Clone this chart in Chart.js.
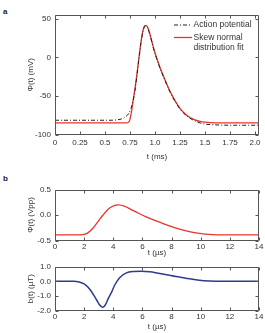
<!DOCTYPE html>
<html>
<head>
<meta charset="utf-8">
<script src="https://cdn.jsdelivr.net/npm/chart.js@4.4.1/dist/chart.umd.min.js"></script>
<style>
  html, body { margin: 0; padding: 0; background: #fff; }
  #wrap { position: relative; width: 265px; height: 333px; overflow: hidden; }
  #wrap canvas { position: absolute; left: 0; }
  .panel { position: absolute; font: bold 8px 'Liberation Sans', Arial, sans-serif; color: #222; }
</style>
</head>
<body>
<div id="wrap">
  <div class="panel" style="left:3px; top:7px;">a</div>
  <div class="panel" style="left:3px; top:174px;">b</div>
  <canvas id="chartA" width="265" height="165" style="top:0px;"></canvas>
  <canvas id="chartB1" width="265" height="88" style="top:170px;"></canvas>
  <canvas id="chartB2" width="265" height="75" style="top:258px;"></canvas>
</div>
<script>
// panel a: action potential (ms, mV)
const apTime = [0, 0.55, 0.62, 0.66, 0.69, 0.72, 0.74, 0.76, 0.78, 0.8, 0.82, 0.84, 0.86, 0.88, 0.9, 0.91, 0.93, 0.95, 0.98, 1.0, 1.05, 1.1, 1.15, 1.2, 1.25, 1.3, 1.35, 1.4, 1.45, 1.5, 1.6, 1.8, 2.05];
const apValue = [-81.5, -81.5, -81, -80, -78.5, -75.5, -72, -66, -57, -43, -23, -1, 19, 34, 41, 41, 37, 29, 14, 5, -14, -30, -45, -57, -67, -74, -79, -82.5, -85, -86.5, -87.5, -88, -88];

// panel a: skew normal fit
const fitTime = [0, 0.6, 0.72, 0.74, 0.75, 0.76, 0.77, 0.78, 0.8, 0.82, 0.84, 0.86, 0.88, 0.9, 0.91, 0.93, 0.95, 0.98, 1.0, 1.05, 1.1, 1.15, 1.2, 1.25, 1.3, 1.35, 1.4, 1.45, 1.5, 1.6, 2.05];
const fitValue = [-85, -85, -85, -83.5, -80, -74, -66, -57, -40, -21, 0, 20, 35, 41, 41.5, 38, 30, 15, 6, -13, -29, -44, -56, -66, -73, -78, -81, -83, -84, -84.8, -85];

// panel b top: phi(t) in Vpp over microseconds
const phiTime = [0, 1.5, 1.9, 2.2, 2.6, 3.0, 3.3, 3.77, 4.1, 4.35, 4.8, 5.3, 5.8, 6.3, 6.8, 7.3, 7.8, 8.3, 8.8, 9.3, 9.8, 10.3, 10.8, 11.5, 14];
const phiValue = [-0.39, -0.39, -0.385, -0.36, -0.26, -0.11, 0.0, 0.14, 0.19, 0.2, 0.17, 0.095, 0.025, -0.04, -0.1, -0.155, -0.21, -0.255, -0.295, -0.33, -0.357, -0.375, -0.385, -0.39, -0.39];

// panel b bottom: b(t) in microtesla
const bTime = [0, 1.3, 1.6, 2.0, 2.4, 2.86, 3.05, 3.25, 3.45, 3.65, 3.9, 4.1, 4.45, 4.9, 5.4, 5.94, 6.5, 7.0, 7.65, 8.3, 9.13, 9.9, 10.6, 11.5, 14];
const bValue = [0, 0, -0.02, -0.18, -0.56, -1.28, -1.6, -1.77, -1.62, -1.19, -0.7, -0.25, 0.27, 0.58, 0.68, 0.7, 0.66, 0.58, 0.46, 0.33, 0.19, 0.07, 0.02, 0, 0];

const msTicks = [0, 0.25, 0.5, 0.75, 1.0, 1.25, 1.5, 1.75, 2.0];
const msTickLabels = ['0', '0.25', '0.5', '0.75', '1.0', '1.25', '1.5', '1.75', '2.0'];
const mvTicks = [-100, -50, 0, 50];
const usTicks = [0, 2, 4, 6, 8, 10, 12, 14];
const vppTicks = [-0.5, 0.0, 0.5];
const utTicks = [-2.0, -1.0, 0.0, 1.0];

const legendLabels = [['Action potential'], ['Skew normal', 'distribution fit']];

const textColor = '#333';
const axisColor = '#555';
const fitRed = '#e8352b';
const fieldBlue = '#2d3c8e';
const fontFamily = "'Liberation Sans', Arial, sans-serif";

function toPoints(xs, ys) {
  return xs.map((x, i) => ({ x, y: ys[i] }));
}

const frameTicks = {
  id: 'frameTicks',
  afterDraw(chart) {
    const { ctx, chartArea: a, scales } = chart;
    const len = 3;
    const l = Math.round(a.left) + 0.5;
    const r = Math.round(a.right) - 0.5;
    const t = Math.round(a.top) + 0.5;
    const b = Math.round(a.bottom) - 0.5;
    ctx.save();
    ctx.strokeStyle = axisColor;
    ctx.lineWidth = 1;
    ctx.beginPath();
    ctx.rect(l, t, r - l, b - t);
    scales.x.ticks.forEach((tick) => {
      const px = Math.round(scales.x.getPixelForValue(tick.value)) + 0.5;
      ctx.moveTo(px, b);
      ctx.lineTo(px, b - len);
      ctx.moveTo(px, t);
      ctx.lineTo(px, t + len);
    });
    scales.y.ticks.forEach((tick) => {
      const py = Math.round(scales.y.getPixelForValue(tick.value)) + 0.5;
      ctx.moveTo(l, py);
      ctx.lineTo(l + len, py);
      ctx.moveTo(r, py);
      ctx.lineTo(r - len, py);
    });
    ctx.stroke();
    ctx.restore();
  },
};

const lineLegend = {
  id: 'lineLegend',
  afterDraw(chart, args, opts) {
    if (!opts.show) return;
    const { ctx } = chart;
    const rows = [25, 37.5];
    ctx.save();
    ctx.font = `8.5px ${fontFamily}`;
    ctx.textBaseline = 'middle';
    ctx.fillStyle = textColor;
    chart.data.datasets.forEach((ds, i) => {
      const y = rows[i];
      ctx.strokeStyle = ds.borderColor;
      ctx.lineWidth = ds.borderWidth;
      ctx.setLineDash(ds.borderDash || []);
      ctx.beginPath();
      ctx.moveTo(174, y);
      ctx.lineTo(192, y);
      ctx.stroke();
      ctx.setLineDash([]);
      legendLabels[i].forEach((line, j) => {
        ctx.fillText(line, 193.5, y + j * 10);
      });
    });
    ctx.restore();
  },
};

function makeChart(id, datasets, cfg) {
  const tickFont = { family: fontFamily, size: 8 };
  return new Chart(document.getElementById(id), {
    type: 'line',
    data: { datasets },
    options: {
      responsive: false,
      animation: false,
      events: [],
      layout: { autoPadding: false, padding: cfg.padding },
      elements: { point: { radius: 0 } },
      plugins: {
        legend: { display: false },
        tooltip: { enabled: false },
        lineLegend: { show: !!cfg.legend },
      },
      scales: {
        x: {
          type: 'linear',
          min: cfg.xMin,
          max: cfg.xMax,
          afterBuildTicks: (s) => { s.ticks = cfg.xTicks.map((v) => ({ value: v })); },
          afterFit: (s) => { s.height = cfg.xHeight; },
          grid: { display: false, drawTicks: false },
          border: { display: false },
          ticks: {
            padding: cfg.xPad,
            color: textColor,
            font: tickFont,
            autoSkip: false,
            maxRotation: 0,
            callback: (v, i) => (cfg.xLabels ? cfg.xLabels[i] : String(v)),
          },
          title: { display: true, text: cfg.xTitle, color: textColor, font: tickFont, padding: 0 },
        },
        y: {
          type: 'linear',
          min: cfg.yMin,
          max: cfg.yMax,
          afterBuildTicks: (s) => { s.ticks = cfg.yTicks.map((v) => ({ value: v })); },
          afterFit: (s) => { s.width = cfg.yWidth; },
          grid: { display: false, drawTicks: false },
          border: { display: false },
          ticks: {
            padding: 4,
            color: textColor,
            font: tickFont,
            autoSkip: false,
            callback: (v) => (cfg.yDigits ? Number(v).toFixed(cfg.yDigits) : String(v)),
          },
          title: { display: true, text: cfg.yTitle, color: textColor, font: tickFont, padding: 0 },
        },
      },
    },
    plugins: [frameTicks, lineLegend],
  });
}

makeChart('chartA', [
  {
    label: 'Action potential',
    data: toPoints(apTime, apValue),
    borderColor: '#222',
    borderWidth: 1,
    borderDash: [4, 2, 1, 2],
    cubicInterpolationMode: 'monotone',
  },
  {
    label: 'Skew normal distribution fit',
    data: toPoints(fitTime, fitValue),
    borderColor: fitRed,
    borderWidth: 1.3,
    cubicInterpolationMode: 'monotone',
  },
], {
  padding: { left: 26, right: 6, top: 15, bottom: 3.2 },
  xMin: 0, xMax: 2.04, xTicks: msTicks, xLabels: msTickLabels, xHeight: 27.3, xPad: 3,
  xTitle: 't (ms)',
  yMin: -100, yMax: 55, yTicks: mvTicks, yWidth: 29, yTitle: 'Φ(t) (mV)',
  legend: true,
});

makeChart('chartB1', [
  {
    label: 'Φ(t)',
    data: toPoints(phiTime, phiValue),
    borderColor: fitRed,
    borderWidth: 1.3,
    cubicInterpolationMode: 'monotone',
  },
], {
  padding: { left: 26, right: 6, top: 19.5, bottom: 0.2 },
  xMin: 0, xMax: 14, xTicks: usTicks, xHeight: 17.3, xPad: 1,
  xTitle: 't (µs)',
  yMin: -0.5, yMax: 0.5, yTicks: vppTicks, yWidth: 29, yTitle: 'Φ(t) (Vpp)', yDigits: 1,
});

makeChart('chartB2', [
  {
    label: 'b(t)',
    data: toPoints(bTime, bValue),
    borderColor: fieldBlue,
    borderWidth: 1.5,
    cubicInterpolationMode: 'monotone',
  },
], {
  padding: { left: 26, right: 6, top: 4.5, bottom: 1.5 },
  xMin: 0, xMax: 14, xTicks: usTicks, xHeight: 21, xPad: 1.4,
  xTitle: 't (µs)',
  yMin: -2.0, yMax: 1.0, yTicks: utTicks, yWidth: 29, yTitle: 'b(t) (µT)', yDigits: 1,
});
</script>
</body>
</html>
